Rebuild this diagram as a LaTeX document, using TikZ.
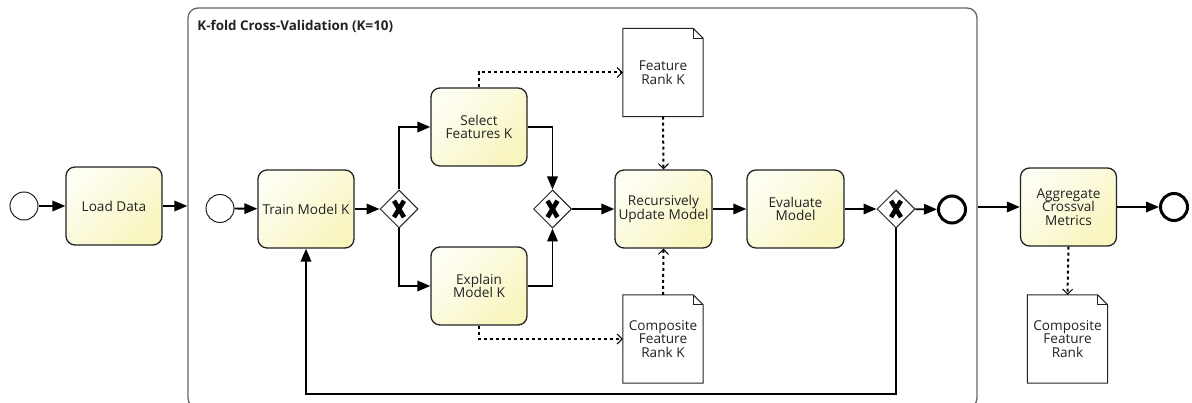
\documentclass[tikz,border=0pt]{standalone}
\usepackage{fontspec}
\setmainfont{Open Sans}
\usetikzlibrary{arrows.meta,shapes.geometric,calc}
\definecolor{taskA}{HTML}{FEFEF3}
\definecolor{taskB}{HTML}{F8F5BE}
\definecolor{ink}{HTML}{222222}
\definecolor{framegray}{HTML}{666666}

\begin{document}
\begin{tikzpicture}[x=1pt,y=-1pt,
  lbl/.style={text=ink, font=\fontsize{13.6}{13.6}\selectfont, align=center},
  task/.style={lbl, draw=ink, line width=1.3pt, rounded corners=9pt,
    minimum width=96pt, minimum height=78pt, inner sep=0pt,
    top color=taskA, bottom color=taskB, shading angle=45},
  gw/.style={diamond, draw=ink, line width=1pt, fill=white,
    minimum width=38pt, minimum height=38pt, inner sep=0pt},
  startev/.style={circle, draw=ink, line width=1pt, fill=white,
    minimum size=28pt, inner sep=0pt},
  endev/.style={circle, draw=black, line width=3pt, fill=white,
    minimum size=27pt, inner sep=0pt},
  dobj/.style={lbl, minimum width=80pt, minimum height=88pt, inner sep=0pt},
  flow/.style={draw=black, line width=1.8pt, -{Triangle[length=13pt,width=10.5pt]}},
  assoc/.style={draw=black, line width=2pt, dash pattern=on 3pt off 3pt,
    -{Straight Barb[length=5pt,width=10pt,line width=1pt]}}
]
\useasboundingbox (0,0) rectangle (1192,403);

% sub-process frame
\node[draw=framegray, line width=1.3pt, rounded corners=10pt,
      minimum width=789pt, minimum height=400pt, inner sep=0pt] (sub) at (582.5,208) {};
\node[anchor=base west, text=ink, font=\bfseries\fontsize{13.4}{14}\selectfont]
      (title) at ($(sub.north west)+(6.5,23.5)$) {K-fold Cross-Validation (K=10)};

% outer process
\node[startev] (s1) at (24,206) {};
\node[task] (load) at (114,206) {Load Data};
\node[task] (agg) at (1068.5,207) {Aggregate\\Crossval\\Metrics};
\node[endev] (e2) at (1174,207) {};
\node[dobj] (cfr) at (1067.5,339) {Composite\\Feature\\Rank};

% inner process
\node[startev] (s2) at (220,208.5) {};
\node[task] (train) at (306,209) {Train Model K};
\node[gw] (g1) at (399,209) {};
\node[task] (sel) at (479,127) {Select\\Features K};
\node[task] (expl) at (479,286) {Explain\\Model K};
\node[gw] (g2) at (552.5,209) {};
\node[task, minimum width=97pt] (rec) at (663.5,209) {Recursively\\Update Model};
\node[task, minimum width=97pt] (eval) at (795.5,209) {Evaluate\\Model};
\node[gw] (g3) at (896,209) {};
\node[endev] (e1) at (952,209.5) {};
\node[dobj] (frk) at (663,72.5) {Feature\\Rank K};
\node[dobj] (cfrk) at (663,339) {Composite\\Feature\\Rank K};

% exclusive gateway markers
\foreach \g in {g1,g2,g3}{
  \draw[line width=4.6pt, black] ($(\g)+(-5,-8.2)$) -- ($(\g)+(5,8.2)$);
  \draw[line width=4.6pt, black] ($(\g)+(5,-8.2)$) -- ($(\g)+(-5,8.2)$);
}

% data object outlines with folded corner
\foreach \d in {frk,cfrk,cfr}{
  \draw[ink, line width=1pt] (\d.north west) -- ($(\d.north east)+(-10,0)$)
    -- ($(\d.north east)+(0,10)$) -- (\d.south east) -- (\d.south west) -- cycle;
  \draw[ink, line width=1pt] ($(\d.north east)+(-10,0)$) -- ($(\d.north east)+(-10,10)$)
    -- ($(\d.north east)+(0,10)$);
}

% sequence flows
\coordinate (lb) at (0,394);
\draw[flow] (s1) -- (load);
\draw[flow] (load) -- (load -| sub.west);
\draw[flow] (agg -| sub.east) -- (agg);
\draw[flow] (agg) -- (e2);
\draw[flow] (s2) -- (train);
\draw[flow] (train) -- (g1);
\draw[flow] (g1.north) |- (sel.west);
\draw[flow] (g1.south) |- (expl.west);
\draw[flow] (sel.east) -| (g2.north);
\draw[flow] (expl.east) -| (g2.south);
\draw[flow] (g2) -- (rec);
\draw[flow] (rec) -- (eval);
\draw[flow] (eval) -- (g3);
\draw[flow] (g3) -- (e1);
\draw[flow] (g3.south) -- (g3.south |- lb) -| (train.south);

% data associations
\draw[assoc] (sel.north) |- (frk.west);
\draw[assoc] (frk.south) -- (rec.north);
\draw[assoc] (expl.south) |- (cfrk.west);
\draw[assoc] (cfrk.north) -- (rec.south);
\draw[assoc] (agg.south) -- (cfr.north);
\end{tikzpicture}
\end{document}
